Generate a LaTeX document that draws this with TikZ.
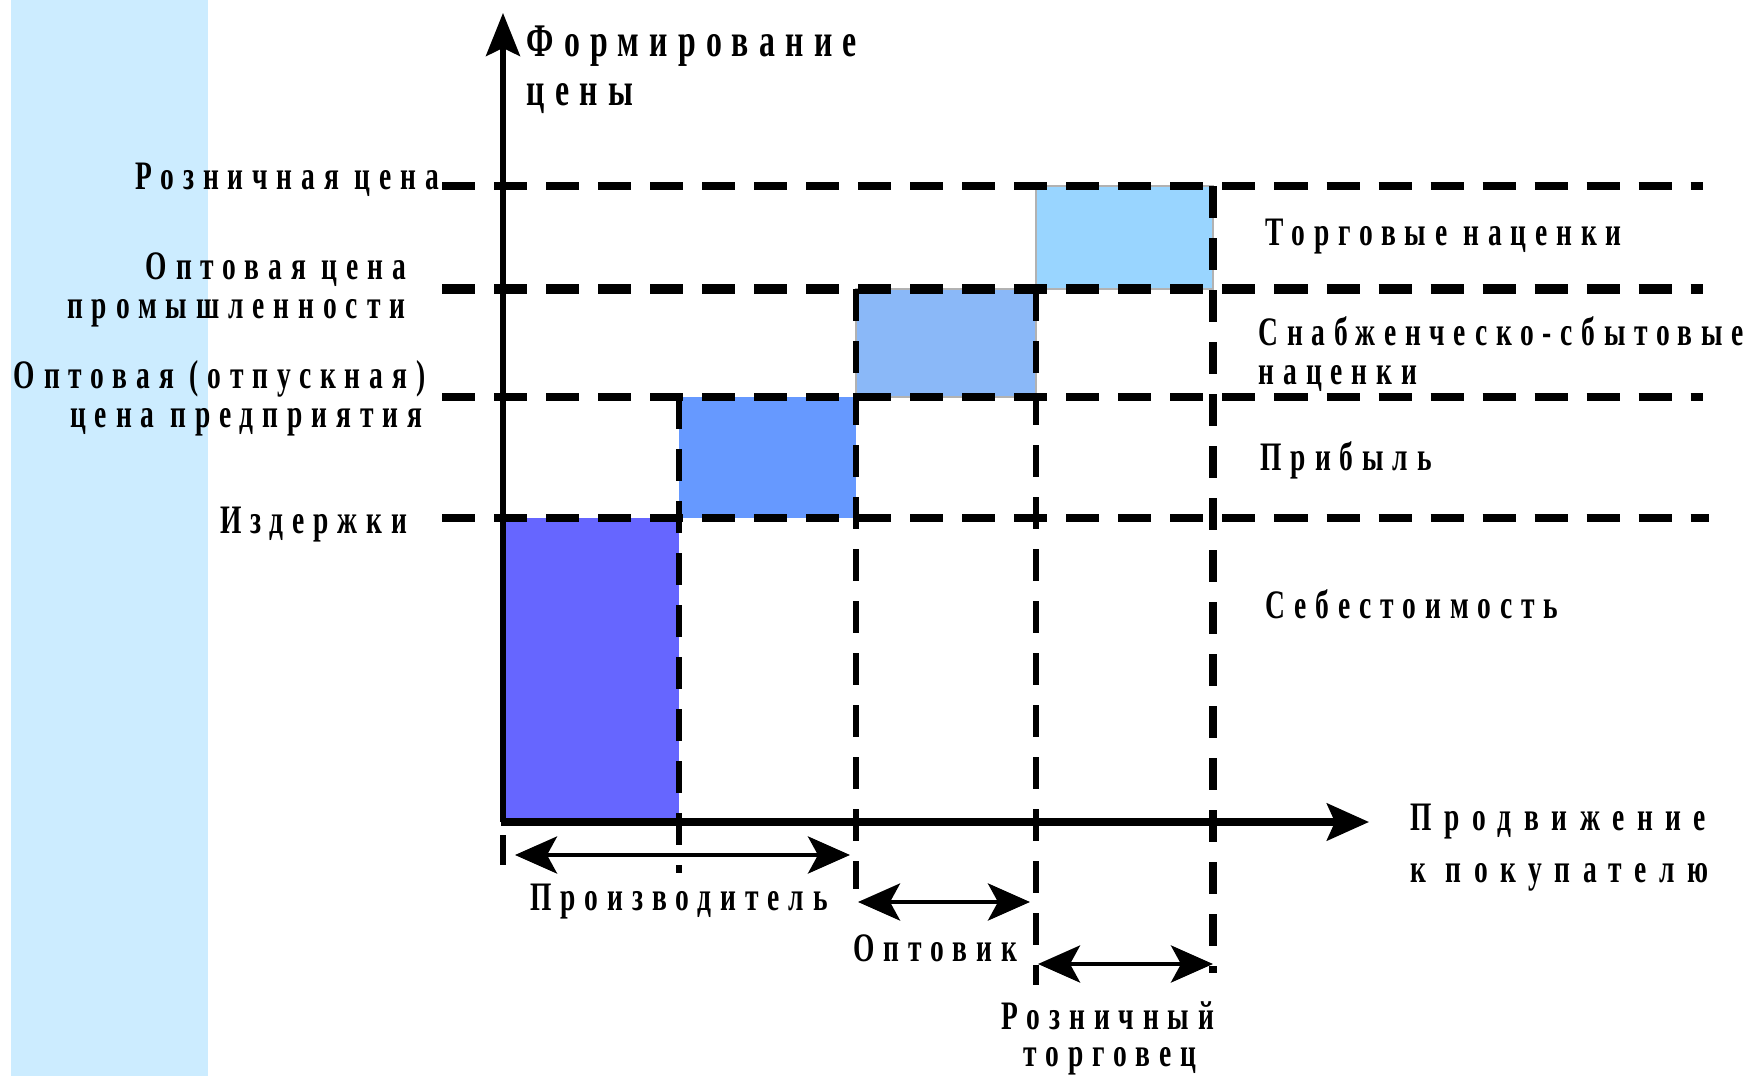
\documentclass[tikz,border=0pt]{standalone}
\usepackage{fontspec}
\usepackage{tikz}
\usetikzlibrary{arrows.meta, positioning}
\newfontfamily\lblfont{Liberation Serif Bold}[FakeStretch=0.68, LetterSpace=22]
\definecolor{bandblue}{HTML}{CCECFF}
\definecolor{costblue}{HTML}{6666FF}
\definecolor{profitblue}{HTML}{6699FF}
\definecolor{supplyblue}{HTML}{8AB8F8}
\definecolor{tradeblue}{HTML}{99D5FF}
\tikzset{
  lbl/.style={font=\lblfont\fontsize{11.5pt}{14pt}\selectfont, inner sep=0pt},
  titlelbl/.style={font=\lblfont\fontsize{13.3pt}{14pt}\selectfont, inner sep=0pt},
  markup/.style={draw=gray!60, line width=0.3pt}
}

\begin{document}
\begin{tikzpicture}[x=0.01cm, y=-0.01cm,
  hline/.style={line width=2pt, dash pattern=on 0.33cm off 0.19cm},
  hthick/.style={line width=2.6pt, dash pattern=on 0.33cm off 0.19cm},
  vline/.style={line width=1.6pt, dash pattern=on 0.32cm off 0.2cm},
  yaxis/.style={line width=1.5pt, -{Stealth[length=0.43cm, width=0.34cm, inset=0.08cm]}},
  xaxis/.style={line width=2pt, -{Stealth[length=0.42cm, width=0.37cm, inset=0.08cm]}},
  span/.style={line width=1.2pt, {Stealth[length=0.42cm, width=0.37cm, inset=0.1cm]}-{Stealth[length=0.42cm, width=0.37cm, inset=0.1cm]}}
]
\useasboundingbox (0,0) rectangle (1754,1076);

% side band
\fill[bandblue] (11,0) rectangle (208,1076);

% price blocks
\fill[costblue] (503,518) rectangle (679,822);
\fill[profitblue] (679,397) rectangle (856,518);
\filldraw[fill=supplyblue, markup] (856,289) rectangle (1036,397);
\filldraw[fill=tradeblue, markup] (1036,186) rectangle (1213,289);

% price levels
\foreach \y/\xe in {186/1703, 397/1703, 518/1709}
  \draw[hline] (442,\y) -- (\xe,\y);
\draw[hthick] (442,289) -- (1703,289);

% stages
\foreach \x/\ya/\yb in {679/397/873, 856/289/889, 1036/289/985}
  \draw[vline] (\x,\ya) -- (\x,\yb);
\draw[vline, line width=2pt] (1213,186) -- (1213,973);
\draw[line width=1.6pt] (503,835) -- (503,865);

% axes
\coordinate (O) at (503,822);
\coordinate (ytip) at (503,13);
\coordinate (xtip) at (1369,822);
\draw[yaxis] (O) -- (ytip);
\draw[xaxis] ([xshift=-0.025cm]O) -- (xtip);

% channel spans
\coordinate (prodL) at (515,855);
\coordinate (prodR) at (850,855);
\coordinate (wholL) at (858,902);
\coordinate (wholR) at (1030,902);
\coordinate (retL) at (1038,964);
\coordinate (retR) at (1213,964);
\draw[span] (prodL) -- (prodR);
\draw[span] (wholL) -- (wholR);
\draw[span] (retL) -- (retR);

% axis titles
\node[titlelbl, anchor=base west] (ytitle) at (526,57) {Формирование};
\node[titlelbl, anchor=base west] (ytitle2) at (526,106) {цены};
\node[lbl, anchor=base west] (xtitle) at (1410,830) {\addfontfeature{LetterSpace=31}Продвижение};
\node[lbl, anchor=base west] (xtitle2) at (1410,882) {\addfontfeature{LetterSpace=31}к покупателю};

% price level labels
\node[lbl, anchor=base east] (retail) at (440,190) {Розничная цена};
\node[lbl, anchor=base east] (indus) at (407,279) {Оптовая цена};
\node[lbl, anchor=base east] (indus2) at (406,318) {промышленности};
\node[lbl, anchor=base east] (firm) at (426,388) {Оптовая (отпускная)};
\node[lbl, anchor=base east] (firm2) at (423,427) {цена предприятия};
\node[lbl, anchor=base east] (costs) at (408,533) {Издержки};

% component labels
\node[lbl, anchor=base west] (trade) at (1265,246) {Торговые наценки};
\node[lbl, anchor=base west] (supply) at (1258,345) {\addfontfeature{LetterSpace=21.5}Снабженческо-сбытовые};
\node[lbl, anchor=base west] (supply2) at (1258,384) {наценки};
\node[lbl, anchor=base west] (profit) at (1260,470) {Прибыль};
\node[lbl, anchor=base west] (prime) at (1265,618) {Себестоимость};

% channel labels
\node[lbl, anchor=base] (producer) at (679,910) {Производитель};
\node[lbl, anchor=base west] (wholesaler) at (853,961) {Оптовик};
\node[lbl, anchor=base] (retailer) at (1108,1029) {Розничный};
\node[lbl, anchor=base] (retailer2) at (1110,1066) {торговец};

\end{tikzpicture}
\end{document}
